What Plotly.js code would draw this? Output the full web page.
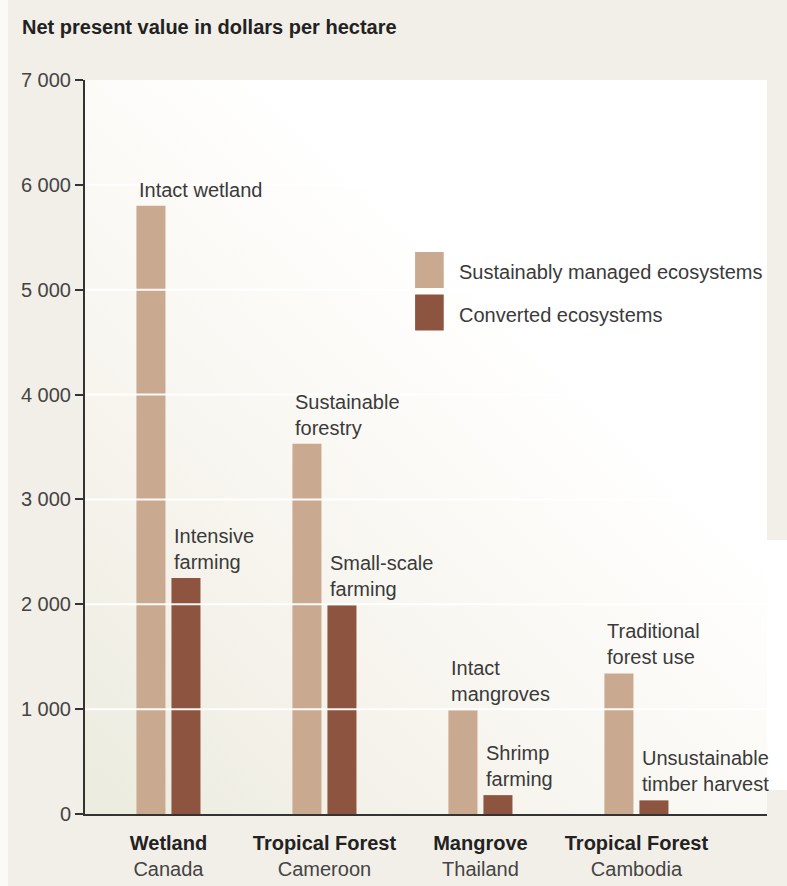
<!DOCTYPE html>
<html>
<head>
<meta charset="utf-8">
<script src="https://cdn.plot.ly/plotly-3.0.1.min.js"></script>
<style>
  html, body { margin: 0; padding: 0; background: #f2efe8; }
  #chart { width: 787px; height: 886px; }
</style>
</head>
<body>
<div id="chart"></div>
<script>
// ---- Data ----
const ecosystems = ["Wetland", "Tropical Forest", "Mangrove", "Tropical Forest"];
const locations = ["Canada", "Cameroon", "Thailand", "Cambodia"];
const categories = ["Wetland, Canada", "Tropical Forest, Cameroon", "Mangrove, Thailand", "Tropical Forest, Cambodia"];

const seriesNames = ["Sustainably managed ecosystems", "Converted ecosystems"];
const sustainableValues = [5800, 3530, 990, 1340];
const convertedValues = [2250, 1990, 180, 130];

const sustainableLabels = ["Intact wetland", "Sustainable<br>forestry", "Intact<br>mangroves", "Traditional<br>forest use"];
const convertedLabels = ["Intensive<br>farming", "Small-scale<br>farming", "Shrimp<br>farming", "Unsustainable<br>timber harvest"];

const yTickValues = [0, 1000, 2000, 3000, 4000, 5000, 6000, 7000];
const yTickLabels = ["0", "1 000", "2 000", "3 000", "4 000", "5 000", "6 000", "7 000"];

const titleText = "Net present value in dollars per hectare";

// ---- Styles ----
const FONT = '"Liberation Sans", Arial, Helvetica, sans-serif';
const lightColor = "#caa991";
const darkColor = "#8d5440";
const textColor = "#3a3a3a";

const xTickText = ecosystems.map((e, i) => "<b>" + e + "</b><br><span style='color:#444'>" + locations[i] + "</span>");

const traces = [
  { type: "bar", name: seriesNames[0], x: categories, y: sustainableValues,
    marker: { color: lightColor }, showlegend: false, hoverinfo: "x+y" },
  { type: "bar", name: seriesNames[1], x: categories, y: convertedValues,
    marker: { color: darkColor }, showlegend: false, hoverinfo: "x+y" }
];

// bar geometry: each category 156px wide, slot 35px, bar 29px
const lightLeftShift = -31;
const darkLeftShift = 4;

const annotations = [];
categories.forEach((c, i) => {
  annotations.push({ x: c, y: sustainableValues[i], xref: "x", yref: "y", text: sustainableLabels[i],
    showarrow: false, xanchor: "left", yanchor: "bottom", align: "left", xshift: lightLeftShift, yshift: 3,
    font: { family: FONT, size: 20, color: textColor } });
  annotations.push({ x: c, y: convertedValues[i], xref: "x", yref: "y", text: convertedLabels[i],
    showarrow: false, xanchor: "left", yanchor: "bottom", align: "left", xshift: darkLeftShift, yshift: 3,
    font: { family: FONT, size: 20, color: textColor } });
});

// custom legend
const legendColors = [lightColor, darkColor];
const legendY = [0.7411, 0.6832];
const shapes = [];
seriesNames.forEach((n, k) => {
  shapes.push({ type: "rect", xref: "paper", yref: "paper", x0: 0.484, x1: 0.526,
    y0: legendY[k] - 0.0245, y1: legendY[k] + 0.0245, fillcolor: legendColors[k], line: { width: 0 }, layer: "above" });
  annotations.push({ xref: "paper", yref: "paper", x: 0.545, y: legendY[k] - 0.003, text: n, showarrow: false,
    xanchor: "left", yanchor: "middle", font: { family: FONT, size: 20, color: textColor } });
});

// white gridlines drawn over bars
yTickValues.filter(v => v > 0 && v < 7000).forEach(v => {
  shapes.push({ type: "line", xref: "paper", yref: "y", x0: 0, x1: 1, y0: v, y1: v,
    line: { color: "rgba(255,255,255,0.95)", width: 2 }, layer: "above" });
});

// edge artifacts of the source image
shapes.push({ type: "rect", xref: "paper", yref: "paper", x0: 1, x1: 1.0293, y0: 0.0327, y1: 0.3733,
  fillcolor: "#ffffff", line: { width: 0 }, layer: "below" });
shapes.push({ type: "rect", xref: "paper", yref: "paper", x0: -0.1246, x1: -0.1129, y0: -0.1, y1: 1.11,
  fillcolor: "#fbfaf7", line: { width: 0 }, layer: "below" });

// plot-area gradient (white top-right to beige bottom-left)
const gradSvg = '<svg xmlns="http://www.w3.org/2000/svg" width="682" height="734" viewBox="0 0 682 734">' +
  '<defs><linearGradient id="g" x1="0" y1="1" x2="0.62" y2="0.3">' +
  '<stop offset="0" stop-color="#ecebdf"/><stop offset="0.55" stop-color="#f8f6f0"/><stop offset="1" stop-color="#ffffff"/>' +
  '</linearGradient></defs><rect width="682" height="734" fill="url(#g)"/></svg>';

const layout = {
  width: 787, height: 886,
  margin: { l: 85, r: 20, t: 80, b: 72, pad: 0 },
  paper_bgcolor: "#f2efe8",
  plot_bgcolor: "rgba(0,0,0,0)",
  font: { family: FONT, size: 20, color: textColor },
  title: { text: "<b>" + titleText + "</b>", x: 22 / 787, xref: "container", xanchor: "left",
    y: 1 - 27 / 886, yref: "container", yanchor: "middle",
    font: { family: FONT, size: 20, color: "#222" } },
  barmode: "group",
  bargap: 0.551,
  bargroupgap: 0.171,
  xaxis: {
    type: "category",
    range: [-0.535, 3.837],
    tickvals: categories, ticktext: xTickText,
    showline: true, linecolor: "#333", linewidth: 2,
    ticks: "", showgrid: false, zeroline: false,
    tickfont: { family: FONT, size: 20, color: "#222" },
    ticklabelstandoff: 10,
    fixedrange: true
  },
  yaxis: {
    range: [0, 7000],
    tickvals: yTickValues, ticktext: yTickLabels,
    showline: true, linecolor: "#333", linewidth: 2,
    ticks: "outside", ticklen: 8, tickwidth: 2, tickcolor: "#333",
    showgrid: false, zeroline: false,
    tickfont: { family: FONT, size: 20, color: "#444" },
    fixedrange: true
  },
  shapes: shapes,
  annotations: annotations,
  images: [{ source: "data:image/svg+xml;charset=utf-8," + encodeURIComponent(gradSvg),
    xref: "paper", yref: "paper", x: 0, y: 1, sizex: 1, sizey: 1, sizing: "stretch", layer: "below",
    xanchor: "left", yanchor: "top" }]
};

Plotly.newPlot("chart", traces, layout, { displayModeBar: false, staticPlot: true });
</script>
</body>
</html>
